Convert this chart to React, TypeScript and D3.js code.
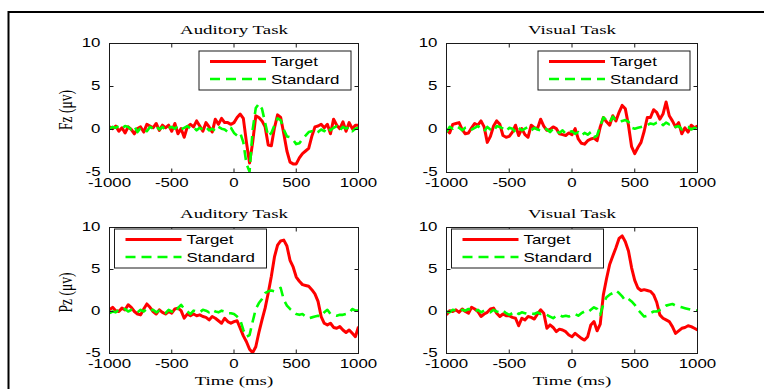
import React from "react";
import * as d3 from "d3";

// Sampling grid of the averaged ERP waveforms (ms)
const sampleTimes = d3.range(-1000, 1001, 25);
const xTicks = [-1000, -500, 0, 500, 1000];
const yTicks = [-5, 0, 5, 10];
const xDomain = [-1000, 1000];
const yDomain = [-5, 10];
const seriesNames = ["Target", "Standard"];
const panelTitles = ["Auditory Task", "Visual Task", "Auditory Task", "Visual Task"];
const channelLabels = ["Fz (\u03bcv)", "Pz (\u03bcv)"];
const xAxisLabel = "Time (ms)";

// Fz, auditory task
const fzAuditoryTarget = [
  0.3, 0.1, 0.4, -0.2, 0.2, -0.4, 0.3, 0.0, -0.5, 0.1, 0.3, -0.3, 0.6, 0.4, 0.2, 0.7, -0.1,
  0.5, 0.2, 0.5, -0.2, 0.7, -0.5, 0.1, -0.9, 0.3, 0.6, 0.3, 1.0, 0.4, -0.2, 0.8, 0.3, -0.3,
  1.2, 0.6, 1.3, 0.8, 0.8, 0.6, 0.8, 1.4, 1.8, 1.3, -1.5, -3.9, -1.5, 1.6, 1.4, 1.0, 0.3,
  -1.8, -1.9, 0.2, 1.7, 1.4, -0.5, -2.5, -3.8, -4.0, -4.0, -3.3, -2.8, -2.5, -2.2, -0.8,
  0.3, 0.4, 0.6, 0.2, 0.6, -0.5, 1.2, 0.5, 0.1, 0.9, -0.2, 0.8, 0.1, 0.5, 0.5,
];
const fzAuditoryStandard = [
  0.1, 0.3, 0.2, 0.4, 0.1, 0.4, 0.3, 0.0, 0.4, -0.3, 0.2, 0.1, -0.2, 0.3, 0.1, 0.4, 0.0,
  0.3, -0.1, 0.2, 0.3, 0.1, 0.4, 0.0, 0.2, 0.4, 0.1, 0.3, -0.1, 0.2, 0.0, 0.3, -0.1, 0.1,
  -0.2, 0.3, 0.1, 0.0, -0.3, 0.2, -0.4, -0.7, -0.4, -1.5, -4.0, -4.9, 0.0, 2.5, 3.0, 2.4,
  0.8, -0.8, -0.4, 0.5, 1.3, 1.1, 0.0, -0.8, -0.9, -1.2, -1.7, -1.6, -1.1, -0.7, -0.3,
  -0.2, -0.5, -0.3, 0.0, -0.2, 0.3, -0.1, 0.2, 0.4, -0.1, 0.3, 0.1, 0.3, -0.2, 0.1, 0.2,
];

// Fz, visual task
const fzVisualTarget = [
  0.0, -0.4, 0.6, 0.7, 0.8, 0.0, -0.5, -0.4, 0.2, 0.7, 0.5, 1.0, 0.3, -1.5, -0.8, 0.4, 1.0,
  0.6, -0.7, -0.9, -0.8, -0.3, 0.5, -0.7, 0.1, -0.6, -0.9, 0.5, 0.2, 0.1, 1.2, 0.4, -0.1,
  0.0, 0.3, 0.1, -0.5, -0.6, -0.7, -0.4, -0.6, 0.1, -1.1, -1.6, -1.7, -1.3, -1.1, -1.0,
  -1.3, 0.3, 1.4, 0.9, 0.5, 1.6, 1.0, 2.0, 2.8, 2.4, 0.5, -2.0, -2.8, -2.1, -1.5, -0.2,
  1.4, 1.4, 2.3, 2.0, 1.2, 1.8, 3.2, 1.6, 1.0, 0.3, 0.8, -0.5, 0.2, -0.3, 0.5, 0.2, 0.4,
];
const fzVisualStandard = [
  -0.3, 0.3, 0.1, 0.4, 0.2, -0.1, 0.2, 0.3, 0.0, 0.2, 0.4, 0.1, -0.2, 0.3, 0.0, -0.2, 0.4,
  0.3, 0.1, -0.2, 0.2, 0.1, -0.3, 0.2, -0.1, 0.1, 0.3, -0.1, 0.2, 0.0, -0.1, 0.2, 0.0,
  -0.3, 0.1, -0.2, -0.4, -0.1, -0.5, -0.3, -0.2, -0.5, -0.3, -0.7, -0.4, -0.6, -0.3, -0.9,
  -0.7, 0.4, 1.4, 1.1, 0.8, 1.5, 1.0, 0.9, 1.0, 1.1, 0.9, 0.2, 0.1, 0.2, 0.3, 0.4, 0.5,
  0.7, 0.6, 0.8, 0.9, 0.5, 0.8, 0.6, 0.7, 0.3, 0.4, 0.0, 0.2, 0.3, 0.0, 0.2, 0.1,
];

// Pz, auditory task
const pzAuditoryTarget = [
  0.2, 0.5, 0.1, 0.0, 0.4, 0.2, 0.8, 0.5, 0.0, -0.3, -0.4, 0.3, 0.9, 0.5, 0.0, -0.3, 0.2,
  -0.1, -0.3, 0.0, -0.2, 0.3, 0.4, 0.1, -0.8, -0.3, -0.5, -0.3, -0.5, -0.4, -0.6, -0.7,
  -1.0, -0.6, -0.8, -1.1, -1.4, -0.8, -1.2, -1.4, -1.2, -1.1, -2.0, -2.9, -3.6, -4.5, -4.9,
  -4.2, -2.5, -1.0, 0.4, 2.2, 4.2, 6.5, 7.9, 8.4, 8.5, 7.8, 6.1, 5.3, 4.1, 3.6, 3.2, 3.1,
  3.0, 2.6, 2.1, 1.2, -0.6, -1.4, -1.6, -1.4, -1.9, -2.0, -1.8, -2.2, -2.5, -2.2, -2.6,
  -3.0, -1.8,
];
const pzAuditoryStandard = [
  -0.2, 0.0, -0.1, 0.2, 0.1, 0.3, 0.0, 0.2, 0.1, -0.1, 0.2, 0.0, 0.3, 0.1, 0.2, -0.1, 0.1,
  0.0, -0.2, 0.2, 0.0, -0.2, 0.4, 0.8, 0.3, 0.0, -0.3, 0.1, 0.0, -0.1, 0.2, 0.1, -0.1, 0.2,
  0.0, -0.1, 0.1, 0.0, -0.2, -0.2, -0.3, -0.6, -1.0, -2.2, -3.0, -2.8, -1.2, 0.3, 1.0, 1.5,
  2.2, 2.4, 2.5, 2.4, 2.6, 2.8, 1.4, 0.7, 0.3, 0.0, -0.3, -0.4, -0.3, -0.6, -0.8, -0.7,
  -0.6, -0.5, -0.6, -0.1, 0.2, -0.3, -0.4, -0.5, -0.4, -0.4, -0.3, -0.2, 0.3, 0.1, 0.1,
];

// Pz, visual task
const pzVisualTarget = [
  -0.4, 0.1, 0.0, 0.2, -0.1, 0.3, 0.0, -0.2, 0.5, 0.3, 0.0, -0.6, -0.3, -0.1, 0.3, 0.4,
  -0.2, -0.6, -0.3, -0.5, -0.5, -0.7, -0.8, -1.7, -0.8, -1.0, -0.6, -0.7, -0.9, -0.3, 0.2,
  -0.2, -2.0, -1.6, -1.9, -2.4, -2.1, -2.2, -2.4, -2.8, -3.0, -2.6, -2.9, -3.2, -3.4, -3.0,
  -1.6, -1.2, -2.3, -1.5, 2.0, 3.9, 5.6, 6.6, 7.6, 8.7, 9.0, 8.3, 7.2, 5.2, 3.7, 2.8, 2.5,
  2.6, 2.5, 2.4, 2.0, 1.1, -0.4, -0.8, -1.0, -1.2, -1.8, -2.6, -2.3, -2.0, -1.9, -1.7, -1.8,
  -2.0, -2.2,
];
const pzVisualStandard = [
  0.0, -0.1, 0.2, 0.1, 0.0, 0.2, 0.1, 0.3, 0.2, 0.0, 0.2, -0.1, 0.1, 0.0, -0.1, 0.2, 0.0,
  -0.1, 0.1, -0.2, -0.4, -0.2, 0.0, -0.3, -0.1, -0.2, -0.3, -0.2, -0.3, -0.1, -0.3, -0.2,
  -0.4, -0.6, -0.8, -0.5, -0.4, -0.6, -0.5, -0.6, -0.4, -0.3, -0.5, -0.2, 0.0, -0.1, 0.2,
  0.5, 0.3, -0.4, 0.9, 1.7, 2.0, 2.2, 2.5, 2.2, 1.8, 1.3, 1.5, 1.2, 0.8, 0.2, -0.2, -0.6,
  -0.5, -0.2, 0.0, 0.0, 0.2, 0.4, 0.7, 0.8, 0.9, 0.7, 0.6, 0.5, 0.4, 0.3, 0.2, 0.1, 0.1,
];

const panelSeries = [
  [fzAuditoryTarget, fzAuditoryStandard],
  [fzVisualTarget, fzVisualStandard],
  [pzAuditoryTarget, pzAuditoryStandard],
  [pzVisualTarget, pzVisualStandard],
];

// ---- layout & style ----
const W = 764;
const H = 389;
const COLS = [
  { left: 109.5, right: 358.5 },
  { left: 446.5, right: 697.5 },
];
const ROWS = [
  { top: 43.5, bottom: 172.5 },
  { top: 227.5, bottom: 353.5 },
];
const SANS = "'Liberation Sans', Arial, Helvetica, sans-serif";
const SERIF = "'Liberation Serif', 'Times New Roman', Times, serif";
const SANS_SIZE = 12.5;
const SERIF_SIZE = 13.5;
const SANS_STRETCH = 1.35;
const SERIF_STRETCH = 1.4;
const TARGET_COLOR = "#ff0000";
const STANDARD_COLOR = "#00ff00";
const AXIS_COLOR = "#1a1a1a";
const TICK_LEN = 4;

type TextProps = {
  x: number;
  y: number;
  children: React.ReactNode;
  anchor?: "start" | "middle" | "end";
  serif?: boolean;
  vertical?: boolean;
};

function WideText({ x, y, children, anchor = "middle", serif = false, vertical = false }: TextProps) {
  const k = serif ? SERIF_STRETCH : SANS_STRETCH;
  const transform = vertical
    ? `translate(${x},${y}) rotate(-90) scale(1,${k})`
    : `translate(${x},${y}) scale(${k},1)`;
  return (
    <text
      transform={transform}
      textAnchor={anchor}
      fontFamily={serif ? SERIF : SANS}
      fontSize={serif ? SERIF_SIZE : SANS_SIZE}
      fill="#000"
    >
      {children}
    </text>
  );
}

type PanelProps = {
  index: number;
  col: { left: number; right: number };
  row: { top: number; bottom: number };
  title: string;
  yLabel: string;
  showXLabel: boolean;
  legendCorner: "ne" | "nw";
  series: number[][];
};

function Panel({ index, col, row, title, yLabel, showXLabel, legendCorner, series }: PanelProps) {
  const x = d3.scaleLinear().domain(xDomain).range([col.left, col.right]);
  const y = d3.scaleLinear().domain(yDomain).range([row.bottom, row.top]);
  const line = d3
    .line<number>()
    .x((_, i) => x(sampleTimes[i]))
    .y((v) => y(v));
  const clipId = `plot-clip-${index}`;
  const cx = (col.left + col.right) / 2;
  const cy = (row.top + row.bottom) / 2;

  const legendW = 152;
  const legendH = 39;
  const lx = legendCorner === "ne" ? col.right - 7.5 - legendW : col.left + 5;
  const ly = legendCorner === "ne" ? row.top + 7.5 : row.top + 1.5;
  const colors = [TARGET_COLOR, STANDARD_COLOR];
  const dashes = [undefined, "10 6"];
  const widths = [3, 2.6];

  return (
    <g>
      <defs>
        <clipPath id={clipId}>
          <rect x={col.left} y={row.top} width={col.right - col.left} height={row.bottom - row.top} />
        </clipPath>
      </defs>

      {/* waveforms */}
      <g clipPath={`url(#${clipId})`}>
        {series.map((values, i) => (
          <path
            key={i}
            d={line(values) ?? ""}
            fill="none"
            stroke={colors[i]}
            strokeWidth={widths[i]}
            strokeDasharray={dashes[i]}
            strokeLinejoin="round"
          />
        ))}
      </g>

      {/* axes box */}
      <rect
        x={col.left}
        y={row.top}
        width={col.right - col.left}
        height={row.bottom - row.top}
        fill="none"
        stroke={AXIS_COLOR}
        strokeWidth={1}
      />
      {xTicks.map((t) => (
        <g key={`xt${t}`}>
          <line x1={x(t)} x2={x(t)} y1={row.bottom} y2={row.bottom - TICK_LEN} stroke={AXIS_COLOR} />
          <line x1={x(t)} x2={x(t)} y1={row.top} y2={row.top + TICK_LEN} stroke={AXIS_COLOR} />
          <WideText x={x(t)} y={row.bottom + 14}>{String(t).replace("-", "-")}</WideText>
        </g>
      ))}
      {yTicks.map((v) => (
        <g key={`yt${v}`}>
          <line x1={col.left} x2={col.left + TICK_LEN} y1={y(v)} y2={y(v)} stroke={AXIS_COLOR} />
          <line x1={col.right} x2={col.right - TICK_LEN} y1={y(v)} y2={y(v)} stroke={AXIS_COLOR} />
          <WideText x={col.left - 9} y={y(v) + 3.5} anchor="end">{String(v)}</WideText>
        </g>
      ))}

      {/* labels */}
      <WideText x={cx} y={row.top - 9.5} serif>{title}</WideText>
      {yLabel && (
        <WideText x={72} y={cy + 2} serif vertical>{yLabel}</WideText>
      )}
      {showXLabel && (
        <WideText x={cx} y={384.5} serif>{xAxisLabel}</WideText>
      )}

      {/* legend */}
      <rect x={lx} y={ly} width={legendW} height={legendH} fill="#fff" stroke={AXIS_COLOR} strokeWidth={1} />
      {seriesNames.map((name, i) => {
        const rowY = ly + 10.5 + i * 17.5;
        return (
          <g key={name}>
            <line
              x1={lx + 11}
              x2={lx + 67}
              y1={rowY}
              y2={rowY}
              stroke={colors[i]}
              strokeWidth={widths[i]}
              strokeDasharray={dashes[i]}
            />
            <WideText x={lx + 72} y={rowY + 4.5} anchor="start">{name}</WideText>
          </g>
        );
      })}
    </g>
  );
}

export default function App() {
  return (
    <svg
      width={W}
      height={H}
      viewBox={`0 0 ${W} ${H}`}
      style={{ position: "absolute", left: 0, top: 0, background: "#fff", display: "block" }}
    >
      <rect x={0} y={0} width={W} height={H} fill="#fff" />
      <path d={`M${W},12 H8.5 V${H}`} fill="none" stroke="#000" strokeWidth={2} />
      {panelSeries.map((series, i) => {
        const r = Math.floor(i / 2);
        const c = i % 2;
        return (
          <Panel
            key={i}
            index={i}
            col={COLS[c]}
            row={ROWS[r]}
            title={panelTitles[i]}
            yLabel={c === 0 ? channelLabels[r] : ""}
            showXLabel={r === 1}
            legendCorner={r === 0 ? "ne" : "nw"}
            series={series}
          />
        );
      })}
    </svg>
  );
}
